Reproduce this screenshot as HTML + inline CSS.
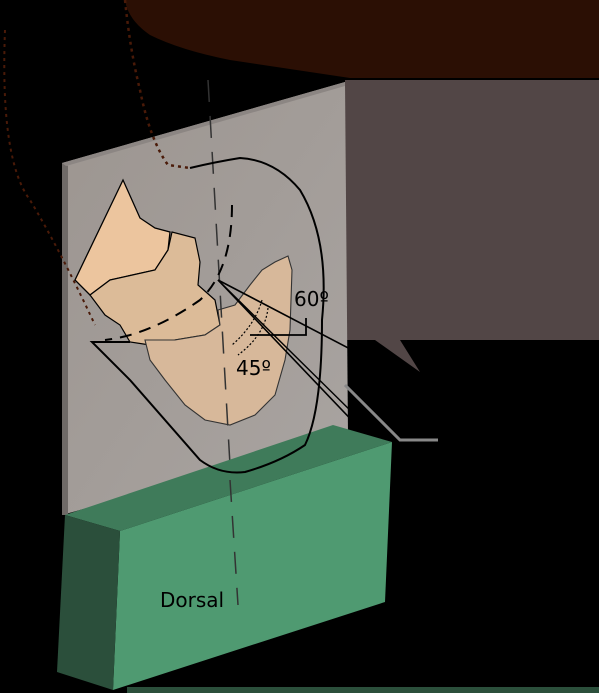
<!DOCTYPE html>
<html><head><meta charset="utf-8"><style>
html,body{margin:0;padding:0;background:#000;width:599px;height:693px;overflow:hidden}
svg{display:block}
text{font-family:"DejaVu Sans","Liberation Sans",sans-serif;fill:#000}
</style></head><body>
<svg width="599" height="693" viewBox="0 0 599 693" xmlns="http://www.w3.org/2000/svg">
<defs>
<linearGradient id="pg" x1="0" y1="0" x2="1" y2="1">
<stop offset="0" stop-color="#9c9590"/><stop offset="1" stop-color="#a9a4a1"/></linearGradient>
</defs>
<rect width="599" height="693" fill="#000"/>
<path d="M125,0 L599,0 L599,78 L350,78 L230,60 Q180,50 150,35 Q128,20 125,0 Z" fill="#2b0f04"/>
<rect x="345" y="80" width="254" height="260" fill="#524646"/>
<path d="M375,340 L400,340 L420,372 Z" fill="#524646"/>
<path d="M62,163 L345,82 L348,435 L62,515 Z" fill="url(#pg)"/>
<path d="M62,163 L68,166 L68,515 L62,515 Z" fill="#6f6a67"/>
<path d="M62,163 L345,82 L345,86 L66,166 Z" fill="#8c8683"/>
<path d="M5,30 Q0,160 30,200 Q60,250 95,325" fill="none" stroke="#4a1a08" stroke-width="2" stroke-dasharray="3,4"/>
<path d="M125,0 Q130,50 140,90 Q150,140 168,165 L190,168" fill="none" stroke="#4a1a08" stroke-width="2.5" stroke-dasharray="3,4"/>
<path d="M75,280 L123,180 L140,218 L155,228 L170,232 L168,250 L155,270 L110,280 L90,295 Z" fill="#ecc59e" stroke="#000" stroke-width="1.3"/>
<path d="M90,295 L110,280 L155,270 L168,250 L172,232 L195,238 L200,262 L198,285 L215,300 L220,325 L205,335 L175,340 L150,345 L130,342 L120,325 L105,315 Z" fill="#dcbb98" stroke="#000" stroke-width="1.2"/>
<path d="M145,340 L175,340 L205,335 L220,325 L218,310 L235,305 L250,285 L262,270 L275,262 L288,256 L292,270 L290,330 L285,360 L275,395 L255,415 L230,425 L205,420 L185,405 L165,380 L150,360 Z" fill="#d7b89a" stroke="#333" stroke-width="1.1"/>
<path d="M208,80 L238,605" fill="none" stroke="#333" stroke-width="1.5" stroke-dasharray="22,14"/>
<path d="M232,205 Q232,270 200,300 Q150,335 105,340" fill="none" stroke="#000" stroke-width="2" stroke-dasharray="12,8"/>
<path d="M262,300 Q255,325 232,345" fill="none" stroke="#000" stroke-width="1.2" stroke-dasharray="2,2"/>
<path d="M268,308 Q265,335 238,355" fill="none" stroke="#000" stroke-width="1.2" stroke-dasharray="2,2"/>
<path d="M250,335 L306,335 L306,318" fill="none" stroke="#000" stroke-width="1.8"/>
<path d="M218,280 L400,375 L430,385" fill="none" stroke="#000" stroke-width="1.6"/>
<path d="M218,280 L382,452" fill="none" stroke="#000" stroke-width="1.6"/>
<path d="M218,280 L360,420" fill="none" stroke="#000" stroke-width="1.4"/>
<path d="M345,385 L400,440 L438,440" fill="none" stroke="#888" stroke-width="3"/>
<text x="294" y="306" font-size="20">60º</text>
<text x="236" y="375" font-size="20">45º</text>
<path d="M65,515 L333,425 L392,442 L120,531 Z" fill="#3f7b5a"/>
<path d="M120,531 L392,442 L385,602 L113,690 Z" fill="#4f9a71"/>
<path d="M65,515 L120,531 L113,690 L57,672 Z" fill="#2b4f3b"/>
<path d="M190,168 Q215,162 240,158 Q275,160 300,190 Q330,240 322,320 Q322,410 305,445 Q280,462 245,472 Q220,475 200,460 L130,380 L92,342 L130,342" fill="none" stroke="#000" stroke-width="2"/>
<path d="M230,480 L238,605" fill="none" stroke="#333" stroke-width="1.5" stroke-dasharray="22,14"/>
<rect x="127" y="687" width="472" height="6" fill="#2b4f3b"/>
<text x="160" y="607" font-size="20">Dorsal</text>
</svg>
</body></html>
